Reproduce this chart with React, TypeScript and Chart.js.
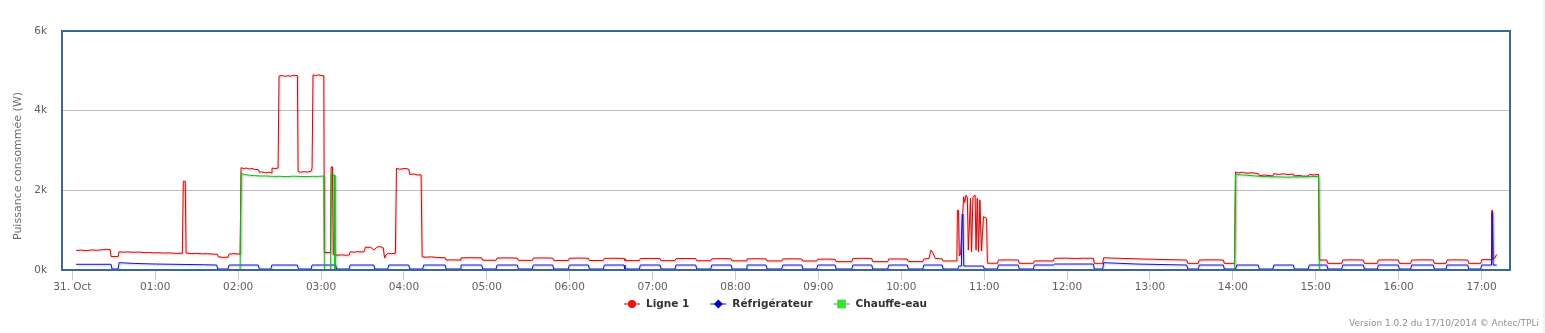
import React, { useEffect, useRef } from 'react';
import { Chart, registerables } from 'chart.js';

Chart.register(...registerables);

// Time axis: minutes after midnight (31 Oct)
const hourTicks = [0, 60, 120, 180, 240, 300, 360, 420, 480, 540, 600, 660, 720, 780, 840, 900, 960, 1020];
const hourLabels = ['31. Oct', '01:00', '02:00', '03:00', '04:00', '05:00', '06:00', '07:00', '08:00', '09:00', '10:00', '11:00', '12:00', '13:00', '14:00', '15:00', '16:00', '17:00'];

const yTicks = [0, 2000, 4000, 6000];
const yTickLabels = ['0k', '2k', '4k', '6k'];

const yTitle = 'Puissance consommée (W)';
const creditsText = 'Version 1.0.2 du 17/10/2014 © Antec/TPLi';

// [minute, watts]
const ligne1Points: Array<[number, number]> = [
  [2.7, 490], [6, 500], [10, 485], [14, 505], [18, 495], [22, 510], [23.7, 520], [27.4, 515], [28.0, 340], [33.1, 335],
  [33.8, 460], [37, 448], [40, 455], [44, 445], [48, 450], [52, 438], [55, 442], [59, 430], [62, 436], [66, 425], [70, 430],
  [74, 418], [79.6, 420], [80.3, 2230], [81.7, 2230], [82.3, 425], [86, 412], [90, 418], [94, 405], [98, 410], [102, 398],
  [105.0, 395], [105.6, 330], [109, 318], [112.7, 322], [113.4, 400], [117, 410], [121.4, 400], [122.1, 2570], [124, 2545],
  [126, 2560], [128, 2535], [130, 2550], [132, 2525], [134.6, 2520], [135.5, 2450], [137, 2465], [140, 2440], [142, 2455],
  [144.0, 2440], [144.5, 2560], [146.5, 2545], [148.9, 2560], [149.6, 4870], [152, 4885], [154, 4860], [156, 4880], [158, 4865],
  [160, 4890], [162.9, 4880], [163.4, 2470], [165, 2455], [168, 2470], [170, 2460], [172.8, 2480], [173.5, 2560], [174.2, 4900],
  [176, 4880], [178, 4900], [180, 4885], [182.0, 4880], [182.4, 440], [186.8, 435], [187.3, 2590], [188.3, 2590], [188.9, 385],
  [192, 372], [195, 380], [198, 370], [200.5, 380], [201.1, 460], [204, 448], [206, 462], [209, 452], [211.1, 460], [212.2, 580],
  [214, 565], [216, 575], [218.2, 500], [220, 560], [222, 590], [224, 575], [225.0, 560], [226.0, 300], [227.0, 380],
  [228.5, 420], [231, 410], [233.8, 420], [234.6, 2550], [237, 2530], [240.8, 2550], [243.5, 2530], [244.2, 2400], [247, 2410],
  [250, 2385], [252.4, 2390], [253.2, 330], [256, 322], [260, 330], [264, 315], [267.6, 310], [269.8, 309], [270.5, 250],
  [275, 255], [280.6, 250], [281.3, 305], [288, 310], [296.3, 305], [297.0, 245], [306.7, 245], [307.4, 300], [314, 305],
  [322.1, 300], [322.8, 242], [332.9, 242], [333.6, 300], [340, 304], [347.7, 298], [348.4, 240], [359.0, 240], [359.7, 295],
  [366, 300], [373.5, 295], [374.2, 238], [384.3, 238], [385.0, 292], [392, 296], [399.3, 290], [400.0, 236], [410.4, 236],
  [411.1, 288], [418, 292], [425.4, 288], [426.1, 234], [436.2, 234], [436.9, 285], [444, 289], [451.2, 285], [451.9, 232],
  [462.1, 232], [462.8, 282], [470, 286], [476.8, 282], [477.5, 230], [487.6, 230], [488.3, 280], [495, 284], [502.1, 280],
  [502.8, 228], [513.5, 228], [514.2, 278], [521, 282], [528.0, 278], [528.7, 226], [538.8, 226], [539.5, 270], [546, 274],
  [552.1, 268], [552.8, 210], [564.2, 210], [564.9, 290], [571, 294], [578.6, 290], [579.3, 210], [590.2, 210], [590.9, 275],
  [597, 279], [604.4, 275], [605.1, 212], [615.6, 212], [616.3, 275], [620.0, 290], [621.5, 500], [623.0, 420], [624.6, 290],
  [629.6, 280], [630.3, 225], [640.2, 228], [640.6, 1500], [641.4, 1500], [642.0, 350], [642.9, 400], [645.1, 1840],
  [645.8, 1700], [646.9, 1880], [647.8, 1820], [648.5, 500], [650.1, 1800], [650.8, 460], [651.9, 1840], [653.4, 1880],
  [654.1, 500], [655.0, 1800], [655.9, 460], [656.9, 1760], [658.0, 480], [659.5, 1340], [661.7, 1300], [662.3, 170],
  [669.6, 170], [670.3, 250], [677, 254], [684.7, 250], [685.4, 168], [695.6, 168], [696.3, 226], [703, 230], [710.1, 226],
  [710.8, 293], [718, 298], [726, 290], [732, 296], [739.0, 293], [739.7, 168], [745.8, 168], [746.5, 309], [752, 300],
  [760, 290], [767, 284], [775, 275], [782, 270], [790, 262], [798, 258], [806.6, 251], [807.3, 167], [815.0, 167],
  [815.7, 251], [824, 256], [833.1, 251], [833.8, 167], [841.2, 167], [841.9, 2460], [844, 2440], [847, 2455], [850, 2430],
  [854, 2440], [858.4, 2420], [859.1, 2370], [863, 2385], [868.9, 2360], [869.6, 2420], [873, 2400], [877, 2415], [880, 2395],
  [883.8, 2410], [884.5, 2360], [888, 2375], [891, 2355], [894.6, 2360], [895.3, 2400], [898, 2385], [902.0, 2400],
  [902.6, 251], [908.0, 251], [908.7, 167], [918.8, 167], [919.5, 251], [927, 255], [934.5, 251], [935.2, 167], [944.6, 167],
  [945.3, 251], [952, 255], [959.8, 251], [960.5, 167], [968.7, 167], [969.4, 251], [977, 255], [985.1, 251], [985.8, 167],
  [994.3, 167], [995.0, 251], [1002, 255], [1010.0, 251], [1010.7, 167], [1019.4, 167], [1020.1, 260], [1027.0, 262],
  [1027.4, 1500], [1028.0, 1500], [1028.3, 270], [1029.5, 300], [1031.0, 393],
];

const refrigerateurPoints: Array<[number, number]> = [
  [2.7, 143], [28.0, 143], [28.7, 25], [33.1, 25], [33.8, 184], [45, 165], [60, 150], [80, 140], [95, 132], [104.5, 125],
  [105.2, 25], [112.7, 25], [113.4, 125], [134.6, 125], [135.3, 25], [143.7, 25], [144.4, 125], [162.9, 125], [163.6, 25],
  [172.8, 25], [173.5, 125], [190.5, 125], [191.2, 25], [200.3, 25], [201.0, 125], [218.2, 125], [218.9, 25], [228.3, 25],
  [229.0, 125], [243.5, 125], [244.2, 25], [253.6, 25], [254.3, 125], [269.8, 125], [270.5, 25], [280.6, 25], [281.3, 125],
  [296.3, 125], [297.0, 25], [306.7, 25], [307.4, 125], [322.1, 125], [322.8, 25], [332.9, 25], [333.6, 125], [347.7, 125],
  [348.4, 25], [359.0, 25], [359.7, 125], [373.5, 125], [374.2, 25], [384.3, 25], [385.0, 125], [399.3, 125], [400.0, 25],
  [410.4, 25], [411.1, 125], [425.4, 125], [426.1, 25], [436.2, 25], [436.9, 125], [451.2, 125], [451.9, 25], [462.1, 25],
  [462.8, 125], [476.8, 125], [477.5, 25], [487.6, 25], [488.3, 125], [502.1, 125], [502.8, 25], [513.5, 25], [514.2, 125],
  [528.0, 125], [528.7, 25], [538.8, 25], [539.5, 125], [552.1, 125], [552.8, 25], [564.2, 25], [564.9, 125], [578.6, 125],
  [579.3, 25], [590.2, 25], [590.9, 125], [604.4, 125], [605.1, 25], [615.6, 25], [616.3, 125], [629.6, 125], [630.3, 25],
  [640.9, 25], [641.6, 100], [643.5, 100], [644.0, 1400], [644.6, 1380], [645.2, 100], [659.4, 100], [660.1, 25],
  [669.6, 25], [670.3, 125], [684.7, 125], [685.4, 25], [695.6, 25], [696.3, 125], [710.1, 125], [710.8, 150], [739.0, 150],
  [739.7, 25], [745.8, 25], [746.5, 184], [770, 150], [806.6, 125], [807.3, 25], [815.0, 25], [815.7, 125], [833.1, 125],
  [833.8, 25], [842.1, 25], [842.8, 125], [858.4, 125], [859.1, 25], [868.9, 25], [869.6, 125], [883.8, 125], [884.5, 25],
  [894.6, 25], [895.3, 125], [908.0, 125], [908.7, 25], [918.8, 25], [919.5, 125], [934.5, 125], [935.2, 25], [944.6, 25],
  [945.3, 125], [959.8, 125], [960.5, 25], [968.7, 25], [969.4, 125], [985.1, 125], [985.8, 25], [994.3, 25], [995.0, 125],
  [1010.0, 125], [1010.7, 25], [1019.4, 25], [1020.1, 125], [1027.2, 125], [1027.6, 1440], [1028.0, 1440], [1028.4, 125],
  [1031.0, 125],
];

const chauffeEauPoints: Array<[number, number]> = [
  [2.7, 0], [121.4, 0], [122.1, 2430], [124, 2400], [126, 2390], [129, 2375], [132, 2370], [136, 2360], [140, 2362],
  [145, 2350], [150, 2352], [155, 2345], [160, 2355], [165, 2348], [170, 2345], [174, 2352], [178, 2350], [182.0, 2360],
  [182.4, 0], [186.9, 0], [187.4, 2420], [189.6, 2380], [190.1, 0], [841.2, 0], [841.9, 2400], [846, 2390], [850, 2380],
  [855, 2365], [860, 2350], [865, 2345], [870, 2340], [875, 2335], [880, 2330], [885, 2338], [890, 2340], [896, 2345],
  [902.0, 2350], [902.6, 0], [1031.0, 0],
];

const seriesNames = ['Ligne 1', 'Réfrigérateur', 'Chauffe-eau'];
const seriesColors = ['#e00000', '#1010dd', '#00c800'];
const markerFill = ['#ee1111', '#0000cc', '#22ee22'];
const markerShapes = ['circle', 'diamond', 'square'];

const FONT = '"DejaVu Sans", sans-serif';

const shadowPlugin = {
  id: 'lineShadow',
  beforeDatasetDraw(chart: any) {
    const ctx: CanvasRenderingContext2D = chart.ctx;
    ctx.save();
    ctx.shadowColor = 'rgba(0,0,0,0.28)';
    ctx.shadowBlur = 2;
    ctx.shadowOffsetX = 1;
    ctx.shadowOffsetY = 1;
  },
  afterDatasetDraw(chart: any) {
    chart.ctx.restore();
  },
};

const decorPlugin = {
  id: 'decor',
  afterDraw(chart: any) {
    const ctx: CanvasRenderingContext2D = chart.ctx;
    const a = chart.chartArea;
    ctx.save();

    // plot border
    ctx.strokeStyle = '#3A6795';
    ctx.lineWidth = 2;
    ctx.strokeRect(a.left, a.top, a.right - a.left, a.bottom - a.top);

    // y axis title
    ctx.save();
    ctx.translate(18, 166);
    ctx.rotate(-Math.PI / 2);
    ctx.fillStyle = '#6e6e6e';
    ctx.font = '11px ' + FONT;
    ctx.textAlign = 'center';
    ctx.textBaseline = 'middle';
    ctx.fillText(yTitle, 0, 0);
    ctx.restore();

    // legend
    ctx.font = 'bold 10.5px ' + FONT;
    const symW = 16;
    const textGap = 6;
    const itemGap = 21;
    const widths = seriesNames.map((n) => ctx.measureText(n).width);
    const total = widths.reduce((s, w) => s + symW + textGap + w, 0) + itemGap * (seriesNames.length - 1);
    let x = Math.round(775.5 - total / 2);
    const ly = 304;
    seriesNames.forEach((name, i) => {
      ctx.strokeStyle = seriesColors[i];
      ctx.lineWidth = 1;
      ctx.beginPath();
      ctx.moveTo(x, ly);
      ctx.lineTo(x + symW, ly);
      ctx.stroke();
      const cx = x + symW / 2;
      ctx.fillStyle = markerFill[i];
      ctx.beginPath();
      if (markerShapes[i] === 'circle') {
        ctx.arc(cx, ly, 4, 0, Math.PI * 2);
      } else if (markerShapes[i] === 'diamond') {
        ctx.moveTo(cx, ly - 4.5);
        ctx.lineTo(cx + 4.5, ly);
        ctx.lineTo(cx, ly + 4.5);
        ctx.lineTo(cx - 4.5, ly);
        ctx.closePath();
      } else {
        ctx.rect(cx - 4, ly - 4, 8, 8);
      }
      ctx.fill();
      if (markerShapes[i] === 'square') {
        ctx.strokeStyle = '#9a9a9a';
        ctx.lineWidth = 0.8;
        ctx.stroke();
      }
      ctx.fillStyle = '#333333';
      ctx.textAlign = 'left';
      ctx.textBaseline = 'middle';
      ctx.fillText(name, x + symW + textGap, ly);
      x += symW + textGap + widths[i] + itemGap;
    });

    // credits
    ctx.font = '9px ' + FONT;
    ctx.fillStyle = '#909090';
    ctx.textAlign = 'left';
    ctx.textBaseline = 'middle';
    ctx.fillText(creditsText, 1349, 323.5);

    // right page strip
    ctx.fillStyle = '#f4f4f4';
    ctx.fillRect(1543, 0, 2, 333);

    ctx.restore();
  },
};

const toXY = (pts: Array<[number, number]>) => pts.map(([x, y]) => ({ x, y }));

export default function App() {
  const ref = useRef<HTMLCanvasElement>(null);

  useEffect(() => {
    const canvas = ref.current;
    if (!canvas) return;
    const allSeries = [ligne1Points, refrigerateurPoints, chauffeEauPoints];
    const chart = new Chart(canvas, {
      type: 'line',
      data: {
        datasets: allSeries.map((pts, i) => ({
          label: seriesNames[i],
          data: toXY(pts),
          borderColor: seriesColors[i],
          backgroundColor: seriesColors[i],
          borderWidth: 1,
          pointRadius: 0,
          tension: 0,
          fill: false,
          order: 3 - i,
        })),
      },
      options: {
        animation: false,
        responsive: false,
        devicePixelRatio: 1,
        events: [],
        layout: { padding: { top: 31, right: 35, bottom: 0, left: 0 } },
        plugins: {
          legend: { display: false },
          tooltip: { enabled: false },
          title: { display: false },
        },
        scales: {
          x: {
            type: 'linear',
            min: -7.5,
            max: 1040.6,
            afterBuildTicks: (s: any) => {
              s.ticks = hourTicks.map((v) => ({ value: v }));
            },
            afterFit: (s: any) => {
              s.height = 63;
            },
            ticks: {
              autoSkip: false,
              maxRotation: 0,
              padding: 1,
              color: '#606060',
              font: { family: FONT, size: 10.5 },
              callback: (v: any) => {
                const i = hourTicks.indexOf(Number(v));
                return i >= 0 ? hourLabels[i] : '';
              },
            },
            grid: { drawOnChartArea: false, drawTicks: true, tickLength: 10, color: '#C0D0E0' },
            border: { display: false },
          },
          y: {
            min: 0,
            max: 6000,
            afterBuildTicks: (s: any) => {
              s.ticks = yTicks.map((v) => ({ value: v }));
            },
            afterFit: (s: any) => {
              s.width = 62;
            },
            ticks: {
              padding: 15,
              color: '#606060',
              font: { family: FONT, size: 10.5 },
              callback: (v: any) => {
                const i = yTicks.indexOf(Number(v));
                return i >= 0 ? yTickLabels[i] : '';
              },
            },
            grid: { color: '#C0C0C0', drawTicks: false },
            border: { display: false },
          },
        },
      },
      plugins: [shadowPlugin, decorPlugin],
    } as any);
    return () => chart.destroy();
  }, []);

  return (
    <canvas
      ref={ref}
      width={1545}
      height={333}
      style={{ position: 'fixed', left: 0, top: 0, width: 1545, height: 333 }}
    />
  );
}
